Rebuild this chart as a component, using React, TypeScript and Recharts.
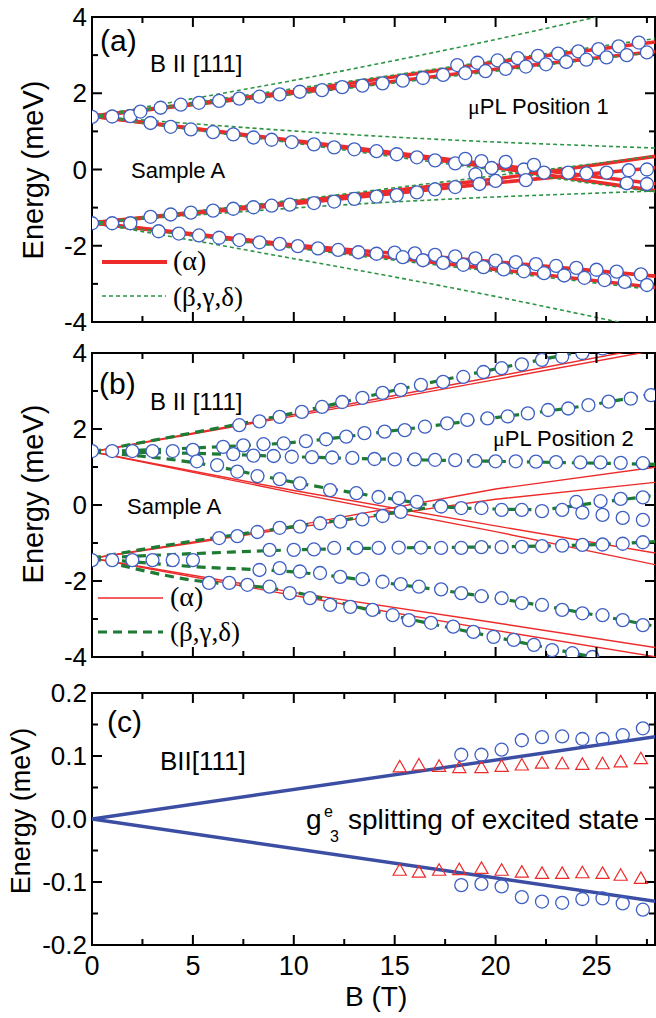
import React from "react";
import { ComposedChart, Line, Scatter, XAxis, YAxis, ReferenceArea } from "recharts";

const SANS = '"Liberation Sans", Arial, sans-serif';
const SERIF = '"Liberation Serif", "Times New Roman", serif';
const BLUE = "#3d5fc4";
const BLUE_LINE = "#3b4ea3";
const RED = "#ee2b2b";
const GREEN_A = "#2d9445";
const GREEN_B = "#1d7b34";

const PL = 92;
const X_MAX = 27.9;

// ---- axes ----
const xTicks = [0, 2.5, 5, 7.5, 10, 12.5, 15, 17.5, 20, 22.5, 25, 27.5];
const xLabels = ["0", "", "5", "", "10", "", "15", "", "20", "", "25", ""];
const yTicksAB = [-4, -3, -2, -1, 0, 1, 2, 3, 4];
const yLabelsAB = ["-4", "", "-2", "", "0", "", "2", "", "4"];
const yTicksC = [-0.2, -0.15, -0.1, -0.05, 0, 0.05, 0.1, 0.15, 0.2];
const yLabelsC = ["-0.2", "", "-0.1", "", "0.0", "", "0.1", "", "0.2"];

// ---- panel (a): fits ----
const aRedB = [0, 10, 20, 28];
const aRed1 = [1.4, 2.05, 2.82, 3.35];
const aRed2 = [1.4, 2.0, 2.63, 3.1];
const aRed3 = [1.4, 0.74, 0.05, -0.56];
const aRed4 = [1.4, 0.76, 0.12, -0.38];
const aRed5 = [-1.4, -0.85, -0.25, 0.35];
const aRed6 = [-1.4, -0.9, -0.35, 0.05];
const aRed7 = [-1.4, -1.98, -2.42, -2.8];
const aRed8 = [-1.4, -2.02, -2.62, -3.1];

const aGreenB = [0, 5, 10, 15, 20, 25, 28];
const aGreen1 = [1.4, 1.86, 2.34, 2.86, 3.41, 4.0, 4.37];
const aGreen2 = [1.4, 1.2, 1.01, 0.85, 0.72, 0.62, 0.56];
const aGreen3 = [-1.4, -1.2, -1.01, -0.85, -0.72, -0.62, -0.56];
const aGreen4 = [-1.4, -1.86, -2.34, -2.82, -3.33, -3.88, -4.22];
const aGreen5 = [1.4, 1.69, 1.97, 2.27, 2.58, 2.9, 3.08];
const aGreen6 = [1.4, 1.76, 2.12, 2.48, 2.86, 3.22, 3.44];
const aGreen7 = [1.4, 1.04, 0.69, 0.33, -0.02, -0.38, -0.6];
const aGreen8 = [-1.4, -1.1, -0.8, -0.48, -0.16, 0.16, 0.36];
const aGreen9 = [-1.4, -1.74, -2.06, -2.38, -2.68, -2.98, -3.16];

// ---- panel (a): measured points ----
const aU0B = [0, 1, 1.9];
const aU0E = [1.38, 1.39, 1.4];
const aUUB = [2.4, 3.4, 4.4, 5.3, 6.3, 7.3, 8.3, 9.3, 10.3, 11.4, 12.4, 13.4, 14.4, 15.4, 16.4, 17.4];
const aUUE = [1.52, 1.62, 1.7, 1.75, 1.8, 1.86, 1.91, 1.97, 2.04, 2.08, 2.16, 2.2, 2.26, 2.33, 2.4, 2.48];
const aUUhB = [18.1, 19.1, 20.1, 21.1, 22.1, 23.1, 24.1, 25.1, 26.1, 27.1];
const aUUhE = [2.74, 2.8, 2.86, 2.92, 2.98, 3.04, 3.1, 3.16, 3.23, 3.33];
const aUUlB = [18.5, 19.5, 20.5, 21.5, 22.5, 23.5, 24.5, 25.5, 26.5, 27.5];
const aUUlE = [2.53, 2.58, 2.64, 2.7, 2.76, 2.82, 2.88, 2.94, 3.0, 3.07];
const aUDB = [2.9, 3.9, 4.9, 6, 7, 8, 8.9, 9.9, 11, 12, 13, 14.1, 15.1, 16.1, 17, 18];
const aUDE = [1.22, 1.12, 1.05, 0.98, 0.92, 0.84, 0.78, 0.72, 0.66, 0.58, 0.53, 0.48, 0.4, 0.32, 0.24, 0.16];
const aMidB = [18.5, 19.3, 19.0, 19.8, 20.0, 20.5, 21.4, 21.5, 21.9, 22.4, 23.6, 24.5, 25.5, 26.6, 26.5, 27.5, 27.5];
const aMidE = [0.28, 0.22, -0.13, 0.04, -0.3, 0.2, 0.0, -0.28, 0.12, -0.08, -0.08, -0.1, -0.08, -0.02, -0.36, 0.0, -0.38];
const aLUB = [2.9, 3.9, 4.9, 6, 7, 8, 8.9, 9.8, 11, 12, 13, 14.1, 15.1, 16.1, 17, 18, 19.2];
const aLUE = [-1.24, -1.18, -1.13, -1.08, -1.03, -0.99, -0.95, -0.92, -0.88, -0.84, -0.77, -0.71, -0.67, -0.6, -0.52, -0.46, -0.38];
const aL0B = [0, 1, 1.9];
const aL0E = [-1.41, -1.41, -1.41];
const aLDB = [3.3, 4.3, 5.3, 6.3, 7.3, 8.3, 9.3, 10.2, 11.2, 12.2, 13.2, 14.1];
const aLDE = [-1.62, -1.68, -1.73, -1.79, -1.85, -1.91, -1.95, -2.01, -2.07, -2.11, -2.17, -2.21];
const aLDhB = [15, 16, 17, 18, 19, 20, 21, 22, 23, 24, 25, 26, 27.2];
const aLDhE = [-2.18, -2.2, -2.24, -2.28, -2.33, -2.39, -2.43, -2.48, -2.53, -2.58, -2.63, -2.68, -2.75];
const aLDlB = [15.4, 16.4, 17.4, 18.4, 19.4, 20.4, 21.4, 22.4, 23.4, 24.4, 25.4, 26.4, 27.5];
const aLDlE = [-2.3, -2.38, -2.45, -2.5, -2.56, -2.62, -2.67, -2.72, -2.78, -2.84, -2.9, -2.95, -3.03];

// ---- panel (b): fits ----
const bRedB = [0, 10, 20, 28];
const bRed1 = [1.4, 2.38, 3.38, 4.18];
const bRed2 = [1.4, 2.34, 3.3, 4.08];
const bRed3 = [1.4, 0.38, -0.55, -1.27];
const bRed4 = [1.4, 0.32, -0.7, -1.58];
const bRed5 = [-1.4, -0.55, 0.42, 1.0];
const bRed6 = [-1.4, -0.6, 0.15, 0.6];
const bRed7 = [-1.4, -2.3, -3.1, -3.76];
const bRed8 = [-1.4, -2.38, -3.3, -4.0];

const bGreenB = [0, 5, 10, 15, 20, 25, 28];
const bGreen1 = [1.4, 1.9, 2.42, 3.02, 3.58, 4.12, 4.45];
const bGreen2 = [1.4, 1.5, 1.65, 1.96, 2.3, 2.66, 2.95];
const bGreen3 = [1.4, 1.36, 1.27, 1.2, 1.15, 1.1, 1.07];
const bGreen6 = [-1.4, -1.28, -1.18, -1.13, -1.1, -1.04, -0.96];
const bGreen7 = [-1.4, -1.62, -1.76, -2.08, -2.45, -2.9, -3.2];
const bGreen4B = [0, 5, 10, 15, 18, 22, 25, 28];
const bGreen4 = [1.4, 1.12, 0.6, 0.15, -0.07, -0.12, 0.06, 0.26];
const bGreen5B = [0, 5, 10, 15, 16.5];
const bGreen5 = [-1.4, -0.95, -0.57, -0.2, -0.08];
const bGreen8B = [0, 5, 9, 15, 20, 25];
const bGreen8 = [-1.4, -1.98, -2.2, -2.92, -3.48, -4.02];

// ---- panel (b): measured points ----
const bU0B = [0, 1, 2, 3, 4, 5];
const bU0E = [1.42, 1.42, 1.42, 1.42, 1.42, 1.45];
const b1B = [7.3, 8.3, 9.3, 10.4, 11.4, 12.4, 13.4, 14.4, 15.3, 16.3, 17.4, 18.4, 19.4, 20.3, 21.3, 22.3, 23.3, 24.3, 25.3];
const b1E = [2.1, 2.2, 2.32, 2.45, 2.58, 2.71, 2.82, 2.95, 3.03, 3.16, 3.24, 3.37, 3.5, 3.6, 3.7, 3.82, 3.9, 4.0, 4.12];
const b2B = [6.5, 7.5, 8.5, 9.5, 10.6, 11.6, 12.6, 13.5, 14.5, 15.5, 16.5, 17.6, 18.6, 19.6, 20.6, 21.6, 22.6, 23.6, 24.6, 25.6, 26.7, 27.7];
const b2E = [1.53, 1.57, 1.6, 1.62, 1.68, 1.73, 1.8, 1.89, 1.93, 1.97, 2.06, 2.15, 2.24, 2.28, 2.33, 2.41, 2.5, 2.54, 2.63, 2.72, 2.8, 2.89];
const b3B = [7, 8, 9, 9.9, 10.9, 11.9, 12.9, 14, 15, 16, 17, 18, 19, 20, 21, 22, 23, 24.2, 25.2, 26.2, 27.3];
const b3E = [1.34, 1.3, 1.29, 1.27, 1.26, 1.25, 1.24, 1.21, 1.2, 1.2, 1.19, 1.18, 1.16, 1.15, 1.15, 1.14, 1.13, 1.12, 1.12, 1.11, 1.1];
const b4B = [5.2, 6.2, 7.2, 8.2, 9.3, 10.3, 11.8, 13.1, 14.2, 15.2, 16.1, 17.3, 18.3, 19.3, 20.3, 21.3, 22.3, 23.3];
const b4E = [1.15, 1.05, 0.88, 0.76, 0.68, 0.57, 0.39, 0.31, 0.21, 0.18, 0.08, -0.04, -0.08, -0.08, -0.13, -0.13, -0.16, -0.13];
const b5B = [24.0, 25.2, 26.2, 27.3];
const b5E = [0.08, 0.1, 0.16, 0.2];
const b6B = [24.3, 25.3, 26.3, 27.3];
const b6E = [-0.2, -0.26, -0.34, -0.39];
const b7B = [6.3, 7.2, 8.2, 9.3, 10.3, 11.3, 12.3, 13.4, 14.4, 15.3];
const b7E = [-0.87, -0.82, -0.71, -0.6, -0.57, -0.48, -0.44, -0.38, -0.29, -0.18];
const bL0B = [0, 1, 2, 3, 4, 5];
const bL0E = [-1.45, -1.45, -1.45, -1.45, -1.45, -1.45];
const b8B = [8.8, 10, 11, 12, 13.1, 14.2, 15.2, 16.3, 17.3, 18.3, 19.3, 20.3, 21.3, 22.3, 23.3, 24.3, 25.3, 26.3, 27.3];
const b8E = [-1.18, -1.18, -1.17, -1.13, -1.13, -1.13, -1.12, -1.12, -1.13, -1.13, -1.11, -1.11, -1.1, -1.08, -1.07, -1.05, -1.04, -1.02, -0.98];
const b9B = [8.3, 9.3, 10.3, 11.3, 12.3, 13.4, 14.4, 15.3, 16.2, 17.3, 18.3, 19.3, 20.3, 21.3, 22.3, 23.3, 24.3, 25.3, 26.3, 27.3];
const b9E = [-1.71, -1.66, -1.75, -1.79, -1.89, -1.95, -2.02, -2.08, -2.15, -2.22, -2.32, -2.4, -2.45, -2.58, -2.63, -2.76, -2.85, -2.9, -3.03, -3.16];
const b10B = [5.8, 6.8, 7.7, 8.8, 9.8, 10.8, 11.8, 12.8, 13.9, 14.9, 15.7, 16.8, 17.9, 18.9, 19.9, 20.9, 21.9, 22.8, 23.8, 24.8];
const b10E = [-2.05, -2.05, -2.1, -2.15, -2.32, -2.45, -2.63, -2.68, -2.76, -2.9, -3.03, -3.1, -3.2, -3.34, -3.47, -3.55, -3.68, -3.82, -3.9, -4.0];

// ---- panel (c) ----
const cLineB = [0, 28];
const cLineUp = [0, 0.131];
const cLineDn = [0, -0.131];
const cTriB = [15.25, 16.2, 17.2, 18.2, 19.3, 20.3, 21.3, 22.3, 23.3, 24.3, 25.3, 26.2, 27.2];
const cTriUp = [0.083, 0.086, 0.084, 0.082, 0.082, 0.084, 0.086, 0.089, 0.088, 0.087, 0.088, 0.091, 0.096];
const cTriDn = [-0.081, -0.084, -0.081, -0.08, -0.078, -0.081, -0.084, -0.086, -0.086, -0.085, -0.086, -0.089, -0.094];
const cCircB = [18.3, 19.3, 20.3, 21.3, 22.3, 23.3, 24.3, 25.3, 26.3, 27.3];
const cCircUp = [0.102, 0.102, 0.11, 0.125, 0.13, 0.131, 0.127, 0.127, 0.133, 0.144];
const cCircDn = [-0.105, -0.103, -0.107, -0.124, -0.131, -0.133, -0.127, -0.126, -0.134, -0.144];

type Pt = { B: number; E: number };
const zip = (bs: number[], es: number[]): Pt[] => bs.map((B, i) => ({ B, E: es[i] }));

const aRedLines = [aRed1, aRed2, aRed3, aRed4, aRed5, aRed6, aRed7, aRed8].map((e) => zip(aRedB, e));
const aGreenLines = [aGreen1, aGreen2, aGreen3, aGreen4, aGreen5, aGreen6, aGreen7, aGreen8, aGreen9].map((e) => zip(aGreenB, e));
const aPoints = [
  zip(aU0B, aU0E), zip(aUUB, aUUE), zip(aUUhB, aUUhE), zip(aUUlB, aUUlE), zip(aUDB, aUDE),
  zip(aMidB, aMidE), zip(aLUB, aLUE), zip(aL0B, aL0E), zip(aLDB, aLDE), zip(aLDhB, aLDhE), zip(aLDlB, aLDlE),
];
const bRedLines = [bRed1, bRed2, bRed3, bRed4, bRed5, bRed6, bRed7, bRed8].map((e) => zip(bRedB, e));
const bGreenLines = [
  ...[bGreen1, bGreen2, bGreen3, bGreen6, bGreen7].map((e) => zip(bGreenB, e)),
  zip(bGreen4B, bGreen4), zip(bGreen5B, bGreen5), zip(bGreen8B, bGreen8),
];
const bPoints = [
  zip(bU0B, bU0E), zip(b1B, b1E), zip(b2B, b2E), zip(b3B, b3E), zip(b4B, b4E), zip(b5B, b5E), zip(b6B, b6E),
  zip(b7B, b7E), zip(bL0B, bL0E), zip(b8B, b8E), zip(b9B, b9E), zip(b10B, b10E),
];

const idx = (arr: number[], v: number) => arr.findIndex((t) => Math.abs(t - v) < 1e-9);

// inward x tick marks on bottom and top edges
function xTick(top: number, bottom: number, labelled: boolean) {
  return (props: any) => {
    const { x, payload } = props;
    const i = idx(xTicks, payload.value);
    const len = i % 2 === 0 ? 10 : 6;
    return (
      <g>
        <rect x={x - 1} y={bottom - len} width={2} height={len} fill="#000" />
        <rect x={x - 1} y={top} width={2} height={len} fill="#000" />
        {labelled && xLabels[i] ? (
          <text x={x} y={bottom + 30} textAnchor="middle" fontSize={27} fontFamily={SANS} fill="#000">
            {xLabels[i]}
          </text>
        ) : null}
      </g>
    );
  };
}

function yTick(ticks: number[], labels: string[]) {
  return (props: any) => {
    const { y, payload } = props;
    const i = idx(ticks, payload.value);
    return labels[i] ? (
      <text x={PL - 5} y={y} textAnchor="end" dominantBaseline="central" fontSize={26} fontFamily={SANS} fill="#000">
        {labels[i]}
      </text>
    ) : (
      <g />
    );
  };
}

// plot frame, with inward y tick marks on both sides, inside the box the library computed
function frame(yTicks: number[]) {
  const lo = yTicks[0];
  const hi = yTicks[yTicks.length - 1];
  return (p: any) => (
    <g>
      <rect x={p.x} y={p.y} width={p.width} height={p.height} fill="none" stroke="#000" strokeWidth={2} />
      {yTicks.map((v, k) => {
        const yy = p.y + ((hi - v) / (hi - lo)) * p.height;
        const l = k % 2 === 0 ? 10 : 6;
        return (
          <g key={k}>
            <rect x={p.x} y={yy - 1} width={l} height={2} fill="#000" />
            <rect x={p.x + p.width - l} y={yy - 1} width={l} height={2} fill="#000" />
          </g>
        );
      })}
    </g>
  );
}

const ring = (fill: string) => (p: any) => (
  <circle cx={p.cx} cy={p.cy} r={6.5} fill={fill} stroke={BLUE} strokeWidth={1.3} />
);
const tri = (p: any) => (
  <path
    d={`M${p.cx},${p.cy - 6.3} L${p.cx + 6.6},${p.cy + 5.2} L${p.cx - 6.6},${p.cy + 5.2} Z`}
    fill="none"
    stroke={RED}
    strokeWidth={1.2}
  />
);

function PanelA() {
  return (
    <ComposedChart width={656} height={336} margin={{ top: 17, right: 1, bottom: 13, left: 0 }}>
      <XAxis type="number" dataKey="B" domain={[0, X_MAX]} allowDataOverflow ticks={xTicks} interval={0}
        tick={xTick(17, 322, false)} tickLine={false} axisLine={false} height={1} />
      <YAxis type="number" dataKey="E" domain={[-4, 4]} allowDataOverflow ticks={yTicksAB} interval={0}
        tick={yTick(yTicksAB, yLabelsAB)} tickLine={false} axisLine={false} width={92} />
      {aRedLines.map((d, i) => (
        <Line key={`ar${i}`} data={d} dataKey="E" type="linear" stroke={RED} strokeWidth={3.6} dot={false} isAnimationActive={false} />
      ))}
      {aGreenLines.map((d, i) => (
        <Line key={`ag${i}`} data={d} dataKey="E" type="monotone" stroke={GREEN_A} strokeWidth={1.6} strokeDasharray="4 3" dot={false} isAnimationActive={false} />
      ))}
      {aPoints.map((d, i) => (
        <Scatter key={`ap${i}`} data={d} shape={ring("#fff")} isAnimationActive={false} />
      ))}
      <ReferenceArea x1={0} x2={X_MAX} y1={-4} y2={4} shape={frame(yTicksAB)} />
    </ComposedChart>
  );
}

function PanelB() {
  return (
    <ComposedChart width={656} height={336} margin={{ top: 17, right: 1, bottom: 14, left: 0 }}>
      <XAxis type="number" dataKey="B" domain={[0, X_MAX]} allowDataOverflow ticks={xTicks} interval={0}
        tick={xTick(17, 321, false)} tickLine={false} axisLine={false} height={1} />
      <YAxis type="number" dataKey="E" domain={[-4, 4]} allowDataOverflow ticks={yTicksAB} interval={0}
        tick={yTick(yTicksAB, yLabelsAB)} tickLine={false} axisLine={false} width={92} />
      {bRedLines.map((d, i) => (
        <Line key={`br${i}`} data={d} dataKey="E" type="linear" stroke={RED} strokeWidth={1.4} dot={false} isAnimationActive={false} />
      ))}
      {bGreenLines.map((d, i) => (
        <Line key={`bg${i}`} data={d} dataKey="E" type="monotone" stroke={GREEN_B} strokeWidth={3.2} strokeDasharray="9 6" dot={false} isAnimationActive={false} />
      ))}
      {bPoints.map((d, i) => (
        <Scatter key={`bp${i}`} data={d} shape={ring("#fff")} isAnimationActive={false} />
      ))}
      <ReferenceArea x1={0} x2={X_MAX} y1={-4} y2={4} shape={frame(yTicksAB)} />
    </ComposedChart>
  );
}

function PanelC() {
  return (
    <ComposedChart width={656} height={346} margin={{ top: 21, right: 1, bottom: 72, left: 0 }}>
      <XAxis type="number" dataKey="B" domain={[0, X_MAX]} allowDataOverflow ticks={xTicks} interval={0}
        tick={xTick(21, 273, true)} tickLine={false} axisLine={false} height={1} />
      <YAxis type="number" dataKey="E" domain={[-0.2, 0.2]} allowDataOverflow ticks={yTicksC} interval={0}
        tick={yTick(yTicksC, yLabelsC)} tickLine={false} axisLine={false} width={92} />
      <Line data={zip(cLineB, cLineUp)} dataKey="E" type="linear" stroke={BLUE_LINE} strokeWidth={3.4} dot={false} isAnimationActive={false} />
      <Line data={zip(cLineB, cLineDn)} dataKey="E" type="linear" stroke={BLUE_LINE} strokeWidth={3.4} dot={false} isAnimationActive={false} />
      <Scatter data={zip(cTriB, cTriUp)} shape={tri} isAnimationActive={false} />
      <Scatter data={zip(cTriB, cTriDn)} shape={tri} isAnimationActive={false} />
      <Scatter data={zip(cCircB, cCircUp)} shape={ring("none")} isAnimationActive={false} />
      <Scatter data={zip(cCircB, cCircDn)} shape={ring("none")} isAnimationActive={false} />
      <ReferenceArea x1={0} x2={X_MAX} y1={-0.2} y2={0.2} shape={frame(yTicksC)} />
    </ComposedChart>
  );
}

// text placed by baseline
function T({ x, base, size, serif, children }: { x: number; base: number; size: number; serif?: boolean; children: React.ReactNode }) {
  return (
    <div
      style={{
        position: "absolute",
        left: x,
        top: base - size * 0.85,
        fontSize: size,
        lineHeight: 1,
        fontFamily: serif ? SERIF : SANS,
        whiteSpace: "nowrap",
        color: "#000",
      }}
    >
      {children}
    </div>
  );
}

function VTitle({ cx, cy, size }: { cx: number; cy: number; size: number }) {
  return (
    <div
      style={{
        position: "absolute",
        left: cx,
        top: cy,
        fontSize: size,
        lineHeight: 1,
        fontFamily: SANS,
        whiteSpace: "nowrap",
        transform: "translate(-50%, -50%) rotate(-90deg)",
      }}
    >
      Energy (meV)
    </div>
  );
}

function Swatch({ x, y, w, color, width, dash }: { x: number; y: number; w: number; color: string; width: number; dash?: string }) {
  return (
    <svg style={{ position: "absolute", left: x, top: y - 5 }} width={w} height={10}>
      <line x1={0} x2={w} y1={5} y2={5} stroke={color} strokeWidth={width} strokeDasharray={dash} />
    </svg>
  );
}

const mu = <span style={{ fontFamily: SERIF }}>μ</span>;

export default function App() {
  return (
    <div style={{ position: "absolute", left: 0, top: 0, width: 656, height: 1018, background: "#fff", overflow: "hidden" }}>
      <div style={{ position: "absolute", left: 0, top: 0 }}>
        <PanelA />
      </div>
      <div style={{ position: "absolute", left: 0, top: 336 }}>
        <PanelB />
      </div>
      <div style={{ position: "absolute", left: 0, top: 672 }}>
        <PanelC />
      </div>

      <VTitle cx={33} cy={170} size={29} />
      <VTitle cx={33} cy={494} size={29} />
      <VTitle cx={21} cy={811} size={27} />
      <T x={345} base={1007} size={28}>B (T)</T>

      {/* panel (a) */}
      <T x={100} base={51} size={30}>(a)</T>
      <T x={150} base={72} size={24}>B II [111]</T>
      <T x={468} base={115} size={22}>{mu}PL Position 1</T>
      <T x={131} base={179} size={22}>Sample A</T>
      <Swatch x={102} y={262} w={65} color={RED} width={4} />
      <T x={173} base={271} size={28} serif>(α)</T>
      <Swatch x={102} y={296} w={64} color={GREEN_A} width={1.6} dash="4 3" />
      <T x={173} base={307} size={27} serif>(β,γ,δ)</T>

      {/* panel (b) */}
      <T x={99} base={394} size={30}>(b)</T>
      <T x={150} base={410} size={24}>B II [111]</T>
      <T x={493} base={447} size={22}>{mu}PL Position 2</T>
      <T x={127} base={515} size={22}>Sample A</T>
      <Swatch x={98} y={598} w={65} color={RED} width={1.5} />
      <T x={170} base={607} size={28} serif>(α)</T>
      <Swatch x={98} y={632} w={65} color={GREEN_B} width={3.2} dash="9 6" />
      <T x={170} base={642} size={27} serif>(β,γ,δ)</T>

      {/* panel (c) */}
      <T x={107} base={732} size={30}>(c)</T>
      <T x={160} base={770} size={26}>BII[111]</T>
      <T x={306} base={830} size={28}>g</T>
      <T x={324} base={818} size={16}>e</T>
      <T x={330} base={843} size={16}>3</T>
      <T x={348} base={830} size={28}>splitting of excited state</T>
    </div>
  );
}
